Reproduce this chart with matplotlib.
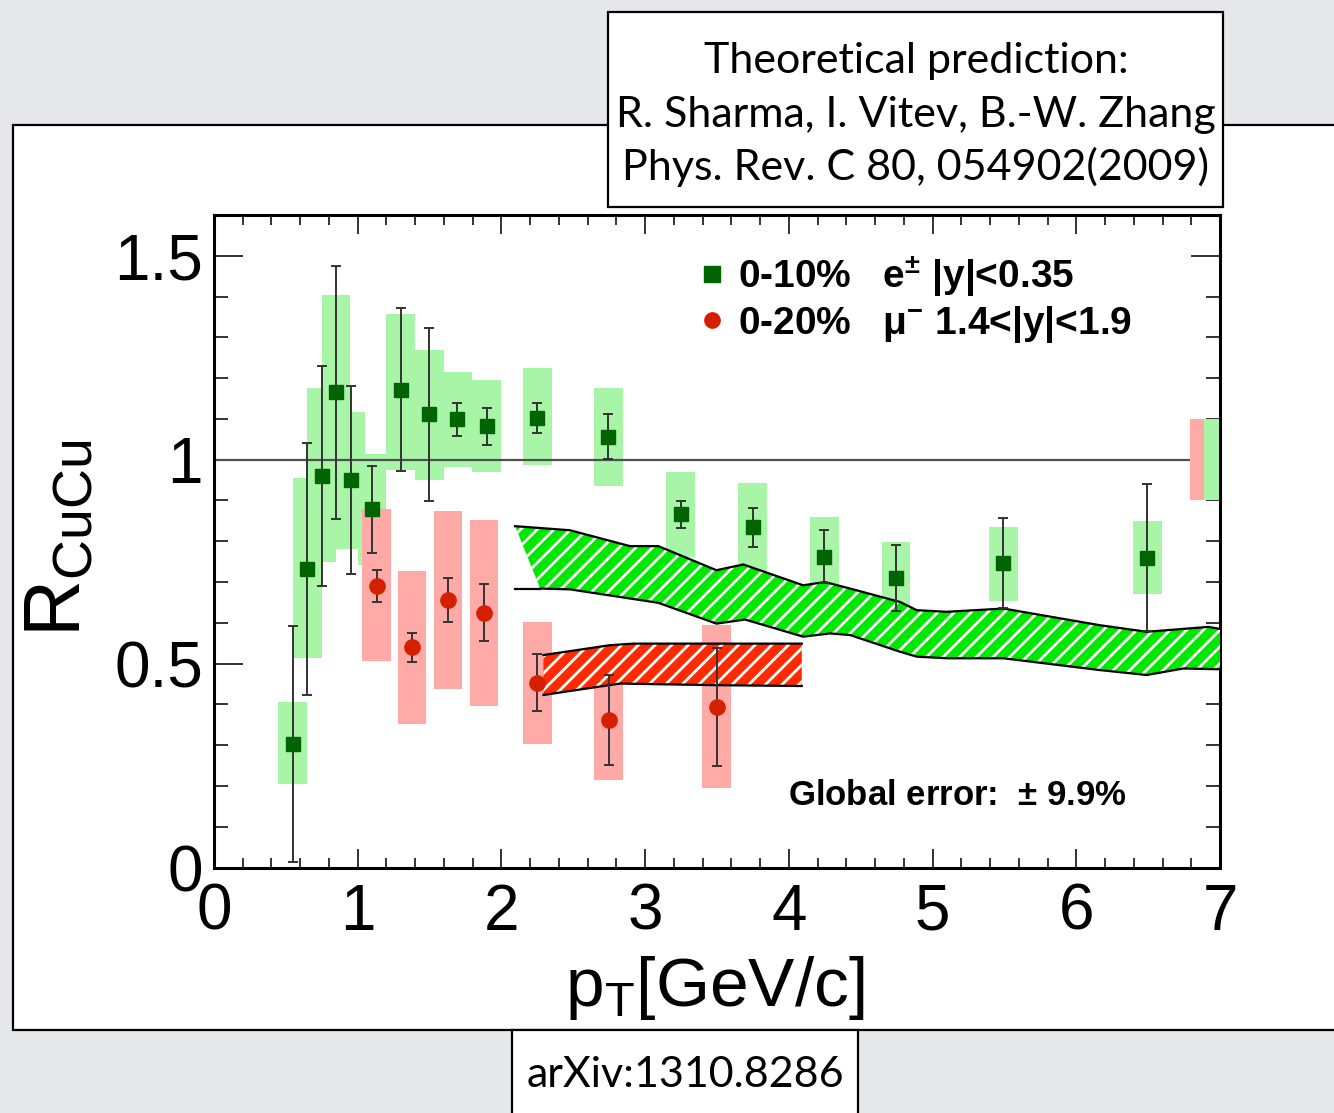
import numpy as np
import matplotlib.pyplot as plt
from matplotlib.patches import Rectangle, Polygon
from matplotlib.lines import Line2D

plt.rcParams['font.family'] = 'Liberation Sans'
plt.rcParams['mathtext.fontset'] = 'custom'
plt.rcParams['mathtext.rm'] = 'Liberation Sans'
plt.rcParams['mathtext.it'] = 'Liberation Sans:italic'
plt.rcParams['mathtext.bf'] = 'Liberation Sans:bold'
plt.rcParams['mathtext.default'] = 'regular'
plt.rcParams['hatch.linewidth'] = 2.0

# e+- 0-10%, |y|<0.35
e_pt = [0.548, 0.65, 0.75, 0.849, 0.951, 1.10, 1.30, 1.498, 1.693, 1.897, 2.25,
        2.744, 3.248, 3.749, 4.247, 4.746, 5.493, 6.495]
e_r = [0.303, 0.732, 0.96, 1.165, 0.95, 0.878, 1.172, 1.111, 1.099, 1.082, 1.102,
       1.056, 0.866, 0.834, 0.762, 0.710, 0.746, 0.760]
e_stat = [0.29, 0.31, 0.27, 0.31, 0.23, 0.107, 0.2, 0.213, 0.04, 0.045, 0.037,
          0.055, 0.033, 0.047, 0.065, 0.08, 0.11, 0.18]
e_sys_lo = [0.205, 0.513, 0.75, 0.78, 0.78, 0.741, 0.975, 0.95, 0.982, 0.97, 0.986,
            0.935, 0.762, 0.726, 0.664, 0.621, 0.653, 0.67]
e_sys_hi = [0.405, 0.956, 1.176, 1.405, 1.117, 1.015, 1.358, 1.27, 1.215, 1.195, 1.224,
            1.177, 0.97, 0.942, 0.86, 0.799, 0.835, 0.85]

# mu- 0-20%, 1.4<|y|<1.9
mu_pt = [1.132, 1.378, 1.628, 1.879, 2.25, 2.747, 3.498]
mu_r = [0.69, 0.54, 0.656, 0.625, 0.453, 0.361, 0.394]
mu_stat = [0.04, 0.035, 0.053, 0.07, 0.07, 0.11, 0.145]
mu_sys_lo = [0.506, 0.353, 0.437, 0.397, 0.304, 0.214, 0.196]
mu_sys_hi = [0.878, 0.727, 0.875, 0.852, 0.602, 0.508, 0.594]

# theory bands (Sharma, Vitev, Zhang)
th_e_up_x = [2.095, 2.477, 2.895, 3.092, 3.496, 3.683, 4.1, 4.251, 4.426, 4.774,
             4.89, 5.099, 5.493, 6.166, 6.49, 6.92, 7.0]
th_e_up_y = [0.837, 0.827, 0.788, 0.788, 0.729, 0.743, 0.692, 0.70, 0.684, 0.651,
             0.631, 0.627, 0.635, 0.594, 0.578, 0.59, 0.585]
th_e_lo_x = [2.095, 2.27, 2.477, 3.092, 3.496, 3.695, 4.1, 4.287, 4.426, 4.774,
             4.89, 5.099, 5.493, 6.166, 6.49, 6.745, 7.0]
th_e_lo_y = [0.684, 0.684, 0.682, 0.649, 0.598, 0.608, 0.566, 0.574, 0.570, 0.529,
             0.517, 0.513, 0.513, 0.484, 0.472, 0.488, 0.486]
th_mu_up_x = [2.292, 2.753, 2.915, 4.09]
th_mu_up_y = [0.521, 0.545, 0.549, 0.549]
th_mu_lo_x = [2.292, 2.825, 3.498, 4.09]
th_mu_lo_y = [0.423, 0.451, 0.447, 0.445]

glob_err = 0.099

dkgreen = '#006400'
ltgreen = '#a8f5a8'
red = '#d42000'
ltred = '#ffaaa6'

W, H = 1334, 1113
fig = plt.figure(figsize=(W / 100, H / 100), dpi=100)
fig.patch.set_facecolor('#e5e7ea')


def pbox(x0, y0, x1, y1, z):
    # box in pixel units, origin top-left
    r = Rectangle((x0 / W, 1 - y1 / H), (x1 - x0) / W, (y1 - y0) / H,
                  transform=fig.transFigure, fc='white', ec='black', lw=1.6, zorder=z)
    fig.add_artist(r)


pbox(13, 125, 1345, 1030, -2)
pbox(608, 12, 1223, 207, -1)
pbox(512, 1030, 858, 1125, -1)

ref_lines = ['Theoretical prediction:', 'R. Sharma, I. Vitev, B.-W. Zhang',
             'Phys. Rev. C 80, 054902(2009)']
for line, yb in zip(ref_lines, [73, 127, 180]):
    fig.text(916 / W, 1 - yb / H, line, family='Lato', fontsize=31, ha='center', va='baseline')
fig.text(685 / W, 1 - 1075 / H, 'arXiv:1310.8286', family='Lato', fontsize=31,
         ha='center', va='center')

ax = fig.add_axes([214 / W, 1 - 867.5 / H, (1220 - 214) / W, (867.5 - 215) / H])
ax.set_xlim(0, 7)
ax.set_ylim(0, 1.6)

# systematic boxes
for x, lo, hi in zip(e_pt, e_sys_lo, e_sys_hi):
    ax.add_patch(Rectangle((x - 0.1, lo), 0.2, hi - lo, fc=ltgreen, ec='none', zorder=1))
for x, lo, hi in zip(mu_pt, mu_sys_lo, mu_sys_hi):
    ax.add_patch(Rectangle((x - 0.1, lo), 0.2, hi - lo, fc=ltred, ec='none', zorder=1))

ax.axhline(1, color='#505050', lw=1.6, zorder=2)

# global normalisation boxes at the right edge
ax.add_patch(Rectangle((6.79, 1 - glob_err), 0.1, 2 * glob_err, fc=ltred, ec='none', zorder=3))
ax.add_patch(Rectangle((6.89, 1 - glob_err), 0.1, 2 * glob_err, fc=ltgreen, ec='none', zorder=3))


def band(ux, uy, lx, ly, col):
    pts = list(zip(ux, uy)) + list(zip(lx, ly))[::-1]
    ax.add_patch(Polygon(pts, closed=True, fc=col, ec='none', zorder=4))
    ax.add_patch(Polygon(pts, closed=True, fc='none', ec='white', lw=0, hatch='//', zorder=4.1))
    ax.plot(ux, uy, color='black', lw=1.6, zorder=4.2)
    ax.plot(lx, ly, color='black', lw=1.6, zorder=4.2)


# lower edge of the green band starts flat, fill starts at its second point
band(th_e_up_x, th_e_up_y, th_e_lo_x[1:], th_e_lo_y[1:], '#00e800')
ax.plot(th_e_lo_x[:2], th_e_lo_y[:2], color='black', lw=1.6, zorder=4.2)
band(th_mu_up_x, th_mu_up_y, th_mu_lo_x, th_mu_lo_y, '#ff2a00')

ax.errorbar(e_pt, e_r, yerr=e_stat, fmt='s', ms=10, mfc=dkgreen, mec=dkgreen,
            ecolor='#333333', elinewidth=1.4, capsize=3.6, capthick=1.4, zorder=5)
ax.errorbar(mu_pt, mu_r, yerr=mu_stat, fmt='o', ms=11, mfc=red, mec=red,
            ecolor='#333333', elinewidth=1.4, capsize=3.6, capthick=1.4, zorder=5)

# axes, ticks
for s in ax.spines.values():
    s.set_linewidth(2.2)
ax.set_xticks(np.arange(0, 8, 1))
ax.set_xticks(np.arange(0, 7.01, 0.2), minor=True)
ax.set_yticks([0, 0.5, 1, 1.5])
ax.set_yticks(np.arange(0, 1.61, 0.1), minor=True)
ax.set_yticklabels(['0', '0.5', '1', '1.5'])
ax.tick_params(which='both', direction='in', top=True, right=True, width=1.4, color='#333333')
ax.tick_params(axis='x', which='major', length=14, pad=11, labelsize=46)
ax.tick_params(axis='x', which='minor', length=7)
ax.tick_params(axis='y', which='major', length=21, pad=8, labelsize=46)
ax.tick_params(axis='y', which='minor', length=10)

fig.text(59 / W, 1 - 538 / H, r'R$_{CuCu}$', fontsize=57, rotation=90, ha='center', va='center')
fig.text(715 / W, 1 - 1006 / H, r'p$_{T}$[GeV/c]', fontsize=50, ha='center', va='baseline')

handles = [Line2D([], [], ls='none', marker='s', ms=11, color=dkgreen),
           Line2D([], [], ls='none', marker='o', ms=11, color=red)]
labels = ['0-10%   e$^{\\pm}$ |y|<0.35', '0-20%   $\\mu^{-}$ 1.4<|y|<1.9']
ax.legend(handles, labels, loc='center left', bbox_to_anchor=(0.4792, 0.8705),
          frameon=False, prop={'weight': 'bold', 'size': 28}, handlelength=0.8,
          handletextpad=0.28, borderpad=0, borderaxespad=0, labelspacing=0.12)

ax.text(0.5706, 0.0958, 'Global error:  $\\pm$ 9.9%', transform=ax.transAxes,
        fontsize=25, fontweight='bold', va='baseline')

fig.savefig('out.png', dpi=100, facecolor=fig.get_facecolor())
